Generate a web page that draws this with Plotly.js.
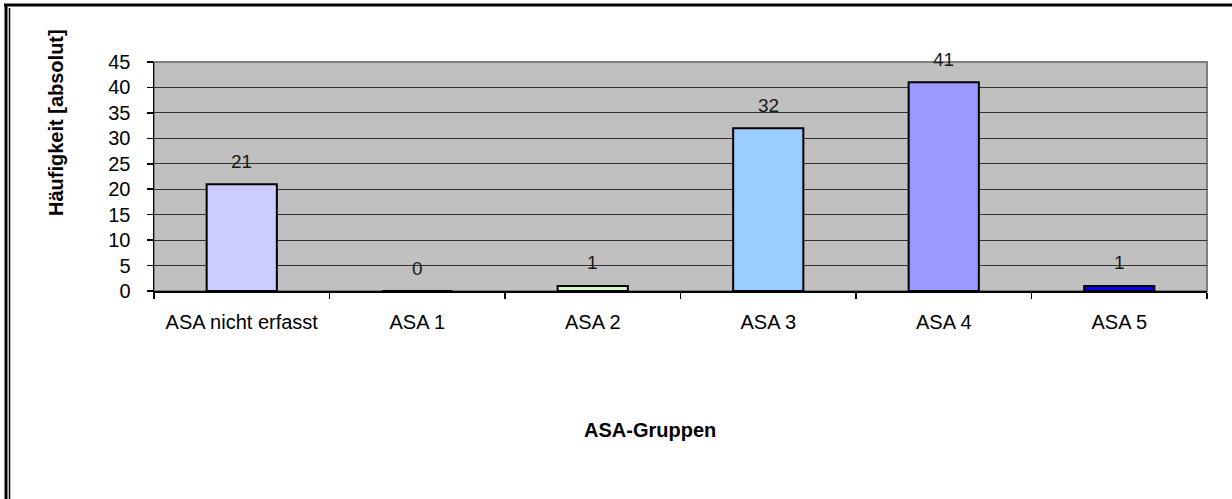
<!DOCTYPE html>
<html>
<head>
<meta charset="utf-8">
<script src="https://cdn.plot.ly/plotly-3.0.1.min.js"></script>
<style>
  html, body { margin: 0; padding: 0; background: #ffffff; }
  #chart { width: 1232px; height: 499px; }
</style>
</head>
<body>
<div id="chart"></div>
<script>
// ASA classification counts
const categories = ["ASA nicht erfasst", "ASA 1", "ASA 2", "ASA 3", "ASA 4", "ASA 5"];
const counts = [21, 0, 1, 32, 41, 1];
const barColors = ["#CCCCFF", "#FFFFCC", "#CCFFCC", "#99CCFF", "#9999FF", "#0000FF"];
const yTickValues = [0, 5, 10, 15, 20, 25, 30, 35, 40, 45];
const xTitle = "ASA-Gruppen";
const yTitle = "Häufigkeit [absolut]";

const W = 1232, H = 499;
const M = { l: 154, r: 25, t: 62, b: 208 };
const plotW = W - M.l - M.r, plotH = H - M.t - M.b;
// pixel -> paper coordinate helpers for frame decorations
const px = x => (x - M.l) / plotW;
const py = y => (H - M.b - y) / plotH;

const FONT = "Liberation Sans, Arial, sans-serif";

const trace = {
  type: "bar",
  x: categories,
  y: counts,
  marker: { color: barColors, line: { color: "#000000", width: 2 } },
  hoverinfo: "x+y"
};

const valueLabels = categories.map((c, i) => ({
  x: c, y: counts[i], xref: "x", yref: "y",
  text: String(counts[i]), showarrow: false,
  yanchor: "middle", yshift: 23,
  font: { family: FONT, size: 19, color: "#1a1a1a" }
}));

const layout = {
  width: W, height: H,
  margin: M,
  paper_bgcolor: "#ffffff",
  plot_bgcolor: "#C0C0C0",
  showlegend: false,
  bargap: 0.6,
  font: { family: FONT, size: 20, color: "#000000" },
  xaxis: {
    type: "category",
    showgrid: false,
    showline: true, linecolor: "#000000", linewidth: 1.5,
    ticks: "outside", tickson: "boundaries", ticklen: 6, tickcolor: "#000000", tickwidth: 1.5,
    ticklabelstandoff: 12,
    tickfont: { family: FONT, size: 20, color: "#000000" },
    fixedrange: true
  },
  yaxis: {
    range: [0, 45],
    tickvals: yTickValues,
    showgrid: true, gridcolor: "#333333", gridwidth: 1,
    zeroline: false,
    showline: true, linecolor: "#000000", linewidth: 1.5,
    ticks: "outside", ticklen: 6, tickcolor: "#000000", tickwidth: 1.5,
    ticklabelstandoff: 12,
    tickfont: { family: FONT, size: 20, color: "#000000" },
    fixedrange: true
  },
  annotations: valueLabels.concat([
    {
      xref: "paper", yref: "paper", x: px(650), y: py(430),
      text: "<b>" + xTitle + "</b>", showarrow: false,
      xanchor: "center", yanchor: "middle",
      font: { family: FONT, size: 20, color: "#000000" }
    },
    {
      xref: "paper", yref: "paper", x: px(56), y: py(123),
      text: "<b>" + yTitle + "</b>", showarrow: false, textangle: -90,
      xanchor: "center", yanchor: "middle",
      font: { family: FONT, size: 20, color: "#000000" }
    }
  ]),
  shapes: [
    // plot area frame (grey top and right edges)
    { type: "rect", xref: "paper", yref: "paper", x0: 0, x1: 1, y0: 0, y1: 1,
      line: { color: "#808080", width: 2 }, layer: "below" },
    // chart frame: heavy top rule, double rule at the left
    { type: "line", xref: "paper", yref: "paper", x0: px(4), x1: px(W + 5), y0: py(5), y1: py(5),
      line: { color: "#000000", width: 3 } },
    { type: "line", xref: "paper", yref: "paper", x0: px(6), x1: px(6), y0: py(4), y1: py(H + 5),
      line: { color: "#000000", width: 3 } },
    { type: "line", xref: "paper", yref: "paper", x0: px(9.5), x1: px(9.5), y0: py(8), y1: py(H + 5),
      line: { color: "#000000", width: 1.5 } }
  ]
};

Plotly.newPlot("chart", [trace], layout, { displayModeBar: false, staticPlot: true });
</script>
</body>
</html>
